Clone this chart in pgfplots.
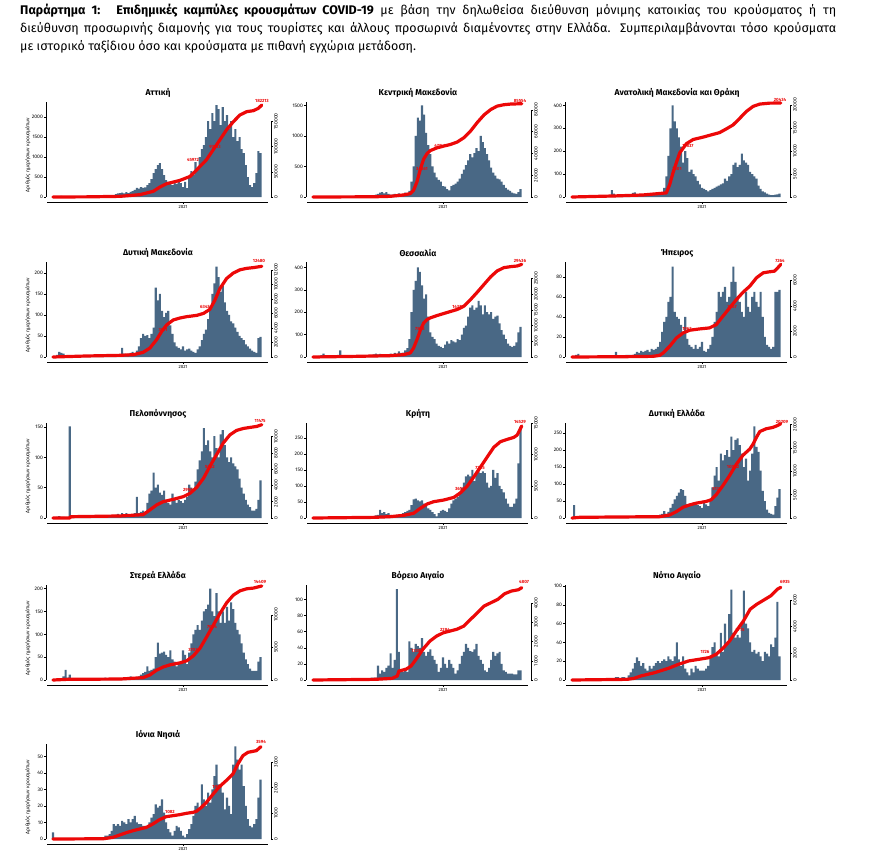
\documentclass[border=0pt]{standalone}
\usepackage{pgfplots}
\pgfplotsset{compat=1.18}
\usepackage{fontspec}
\setmainfont{Fira Sans}

\definecolor{barc}{RGB}{73,104,133}
\definecolor{curvered}{RGB}{236,8,8}

\pgfplotsset{
  panel/.style={width=225pt, height=95pt, scale only axis, anchor=south west,
    xmin=-16.7, xmax=520, ymin=0, clip=false, axis x line=none, xtick=\empty,
    tick align=outside, major tick length=2pt,
    tick style={black, line width=0.5pt},
    axis line style={-, black, line width=0.5pt},
    scaled y ticks=false,
    yticklabel style={font=\fontsize{5}{6}\selectfont, inner sep=1pt}},
  leftax/.style={panel, axis y line*=left, ybar, bar width=5},
  rightax/.style={panel, axis y line*=right, y axis line style={draw=none},
    yticklabel style={rotate=90, anchor=north}},
  bars/.style={fill=barc, draw=none},
  curve/.style={curvered, line width=3.2pt, line join=round, line cap=round},
}

% x axis line, 2021 tick and title of one panel: left edge, zero level, title
\newcommand\frm[3]{%
  \draw[black, line width=0.5pt] ({#1pt+1pt},{-#2pt-5pt}) -- ({#1pt+222pt},{-#2pt-5pt});
  \draw[black, line width=0.5pt] ({#1pt+137pt},{-#2pt-5pt}) -- ++(0,-2pt)
    node[below, inner sep=1pt, font=\fontsize{4.5}{5}\selectfont] {2021};
  \node[font=\fontsize{8.5}{10}\selectfont\bfseries] at ({#1pt+112pt},{-#2pt+104pt}) {#3};
}
\newcommand\ylab[1]{\node[rotate=90, font=\fontsize{5}{6}\selectfont] at (28pt,{-#1pt+42pt}) {Αριθμός ημερήσιων κρουσμάτων};}
\newcommand\vlab[3]{\node[text=curvered, font=\fontsize{4.5}{5}\selectfont\bfseries, inner sep=0pt] at (#1pt,-#2pt) {#3};}

\begin{document}
\begin{tikzpicture}
\path[use as bounding box] (0,0) rectangle (872pt,-864pt);

\node[anchor=north west, inner sep=0pt, text width=816pt, align=justify,
      font=\fontsize{12.5}{18}\selectfont] at (20pt,-4pt)
  {\hyphenpenalty=10000 \textbf{Παράρτημα 1:~ Επιδημικές καμπύλες κρουσμάτων COVID-19} με βάση την δηλωθείσα διεύθυνση μόνιμης κατοικίας του κρούσματος ή τη\linebreak
   διεύθυνση προσωρινής διαμονής για τους τουρίστες και άλλους προσωρινά διαμένοντες στην Ελλάδα. Συμπεριλαμβάνονται τόσο κρούσματα\linebreak
   με ιστορικό ταξίδιου όσο και κρούσματα με πιθανή εγχώρια μετάδοση.};

% ---------------- Αττική
\begin{axis}[leftax, at={(46pt,-197pt)}, ymax=2375, ytick={0,500,1000,1500,2000}, yticklabels={0,500,1000,1500,2000}]
\addplot[bars] table[x expr=\coordindex*5, y index=0, header=false, row sep=\\] {
2\\8\\15\\25\\30\\25\\20\\15\\10\\8\\
5\\5\\4\\5\\5\\5\\6\\8\\8\\6\\
8\\10\\12\\10\\15\\20\\25\\30\\40\\50\\
70\\90\\100\\110\\90\\120\\100\\130\\150\\180\\
230\\210\\250\\230\\240\\300\\350\\450\\600\\700\\
800\\850\\700\\550\\420\\380\\350\\300\\380\\330\\
400\\350\\250\\380\\220\\500\\650\\550\\870\\700\\
1000\\1200\\1300\\1500\\1900\\1700\\2100\\1900\\2300\\2200\\
1800\\2250\\1900\\2050\\1700\\1900\\1500\\1700\\1400\\1500\\
1200\\1100\\800\\500\\300\\250\\350\\600\\1150\\1100\\
};
\end{axis}
\begin{axis}[rightax, at={(46pt,-197pt)}, ymax=188150, ytick={0,50000,100000,150000}, yticklabels={0,50000,100000,150000}]
\draw[black, line width=0.5pt] (axis cs:520,0) -- (axis cs:520,150000);
\addplot[curve] coordinates {(0,0) (80,300) (160,1300) (207,4600) (239,11200) (255,19700)
  (271,26300) (303,33000) (327,40800) (343,54000) (366,73700) (382,93400) (398,113000)
  (414,133000) (430,149000) (446,162500) (462,169000) (478,171000) (490,175700) (498,182213)};
\end{axis}
\frm{46}{197}{Αττική}\ylab{197}
\vlab{193}{160}{45972}\vlab{215}{147}{97813}\vlab{262}{101}{182213}

% ---------------- Κεντρική Μακεδονία
\begin{axis}[leftax, at={(306pt,-197pt)}, ymax=1555, ytick={0,500,1000,1500}, yticklabels={0,500,1000,1500}]
\addplot[bars] table[x expr=\coordindex*5, y index=0, header=false, row sep=\\] {
5\\10\\15\\10\\8\\5\\3\\3\\3\\3\\
3\\3\\3\\3\\3\\3\\3\\3\\3\\3\\
3\\5\\5\\8\\8\\10\\15\\20\\25\\30\\
40\\50\\70\\80\\60\\80\\50\\40\\40\\50\\
40\\60\\40\\50\\70\\60\\100\\250\\500\\1000\\
1300\\1250\\1500\\1350\\1050\\850\\700\\500\\400\\320\\
280\\250\\180\\170\\130\\110\\180\\200\\220\\250\\
300\\380\\450\\520\\600\\700\\650\\720\\800\\750\\
1000\\900\\800\\700\\600\\480\\400\\350\\300\\290\\
250\\200\\150\\120\\100\\70\\60\\50\\80\\130\\
};
\end{axis}
\begin{axis}[rightax, at={(306pt,-197pt)}, ymax=87110, ytick={0,20000,40000,60000,80000}, yticklabels={0,20000,40000,60000,80000}]
\draw[black, line width=0.5pt] (axis cs:520,0) -- (axis cs:520,80000);
\addplot[curve] coordinates {(0,0) (144,200) (184,600) (216,1900) (232,3100) (240,6200)
  (248,14000) (256,25500) (264,34800) (272,39800) (280,42600) (296,45100) (312,46700)
  (328,48200) (344,50400) (360,54400) (376,60600) (392,68400) (408,75300) (424,80200)
  (439,83300) (455,84600) (471,85200) (498,85554)};
\end{axis}
\frm{306}{197}{Κεντρική Μακεδονία}
\vlab{422}{169}{34361}\vlab{440}{146}{47742}\vlab{520}{101}{85554}

% ---------------- Ανατολική Μακεδονία και Θράκη
\begin{axis}[leftax, at={(565pt,-197pt)}, ymax=415, ytick={0,100,200,300,400}, yticklabels={0,100,200,300,400}]
\addplot[bars] table[x expr=\coordindex*5, y index=0, header=false, row sep=\\] {
0\\1\\2\\3\\2\\2\\2\\1\\1\\1\\
1\\1\\1\\1\\2\\2\\3\\5\\8\\30\\
15\\5\\3\\3\\4\\5\\6\\8\\10\\18\\
20\\12\\8\\6\\7\\8\\10\\12\\10\\8\\
10\\12\\15\\20\\40\\90\\180\\300\\400\\330\\
300\\260\\220\\150\\200\\170\\110\\120\\100\\90\\
70\\55\\40\\35\\30\\25\\30\\35\\40\\45\\
50\\55\\60\\80\\70\\90\\100\\140\\150\\130\\
140\\190\\160\\150\\140\\110\\100\\90\\80\\50\\
35\\25\\20\\15\\10\\8\\8\\10\\12\\15\\
};
\end{axis}
\begin{axis}[rightax, at={(565pt,-197pt)}, ymax=20650, ytick={0,5000,10000,15000,20000}, yticklabels={0,5000,10000,15000,20000}]
\draw[black, line width=0.5pt] (axis cs:520,0) -- (axis cs:520,20000);
\addplot[curve] coordinates {(0,0) (98,220) (169,440) (225,890) (233,2700) (241,5300)
  (249,7500) (257,9600) (273,11600) (289,12500) (312,13000) (336,13600) (352,14000)
  (368,14800) (384,15650) (400,17100) (416,18600) (432,19700) (448,20200) (471,20400) (498,20434)};
\end{axis}
\frm{565}{197}{Ανατολική Μακεδονία και Θράκη}
\vlab{677}{169}{7601}\vlab{688}{146}{11837}\vlab{780}{100}{20434}

% ---------------- Δυτική Μακεδονία
\begin{axis}[leftax, at={(46pt,-357pt)}, ymax=226, ytick={0,50,100,150,200}, yticklabels={0,50,100,150,200}]
\addplot[bars] table[x expr=\coordindex*5, y index=0, header=false, row sep=\\] {
0\\2\\5\\12\\10\\8\\2\\2\\2\\1\\
1\\1\\1\\1\\1\\1\\1\\2\\1\\1\\
1\\2\\2\\3\\3\\2\\3\\3\\3\\4\\
4\\5\\5\\22\\8\\6\\8\\10\\12\\8\\
15\\25\\45\\55\\50\\52\\45\\55\\70\\165\\
135\\150\\110\\95\\105\\110\\75\\55\\35\\25\\
22\\18\\25\\15\\18\\20\\15\\12\\10\\18\\
25\\40\\55\\65\\90\\120\\150\\175\\215\\190\\
155\\170\\130\\110\\100\\85\\80\\70\\60\\50\\
45\\40\\30\\25\\20\\15\\12\\10\\45\\48\\
};
\end{axis}
\begin{axis}[rightax, at={(46pt,-357pt)}, ymax=13072, ytick={0,2000,4000,6000,8000,10000,12000}, yticklabels={0,2000,4000,6000,8000,10000,12000}]
\draw[black, line width=0.5pt] (axis cs:520,0) -- (axis cs:520,12000);
\addplot[curve] coordinates {(0,0) (80,140) (160,230) (192,320) (215,640) (231,1230)
  (247,2370) (259,3500) (271,4410) (287,5100) (303,5370) (319,5550) (343,5730) (359,6000)
  (374,6550) (386,7800) (398,9400) (414,10800) (430,11550) (446,12000) (462,12200)
  (478,12300) (498,12480)};
\end{axis}
\frm{46}{357}{Δυτική Μακεδονία}\ylab{357}
\vlab{163}{330}{3701}\vlab{205}{307}{6343}\vlab{259}{261}{12480}

% ---------------- Θεσσαλία
\begin{axis}[leftax, at={(306pt,-357pt)}, ymax=424, ytick={0,100,200,300,400}, yticklabels={0,100,200,300,400}]
\addplot[bars] table[x expr=\coordindex*5, y index=0, header=false, row sep=\\] {
0\\2\\3\\5\\8\\15\\5\\3\\3\\2\\
2\\3\\10\\30\\5\\2\\2\\2\\2\\2\\
3\\3\\2\\2\\3\\3\\4\\5\\6\\12\\
15\\12\\14\\10\\12\\8\\10\\15\\12\\18\\
15\\25\\18\\20\\30\\40\\80\\200\\300\\340\\
400\\380\\320\\260\\280\\180\\110\\90\\80\\60\\
50\\45\\40\\55\\70\\60\\75\\70\\65\\80\\
75\\100\\130\\140\\180\\220\\230\\210\\220\\250\\
230\\190\\230\\200\\190\\200\\170\\180\\185\\150\\
120\\100\\80\\60\\50\\45\\50\\65\\110\\135\\
};
\end{axis}
\begin{axis}[rightax, at={(306pt,-357pt)}, ymax=30180, ytick={0,5000,10000,15000,20000,25000}, yticklabels={0,5000,10000,15000,20000,25000}]
\draw[black, line width=0.5pt] (axis cs:520,0) -- (axis cs:520,25000);
\addplot[curve] coordinates {(0,0) (104,210) (184,430) (216,740) (232,1280) (240,2870)
  (248,5530) (256,8500) (264,10840) (272,11900) (280,12440) (296,13180) (312,13820)
  (328,14460) (344,15100) (360,16160) (376,18280) (392,20620) (408,23070) (424,25510)
  (439,27320) (455,28380) (471,28700) (487,28910) (498,29436)};
\end{axis}
\frm{306}{357}{Θεσσαλία}
\vlab{420}{329}{7828}\vlab{458}{307}{14372}\vlab{520}{261}{29436}

% ---------------- Ήπειρος
\begin{axis}[leftax, at={(565pt,-357pt)}, ymax=94.7, ytick={0,20,40,60,80}, yticklabels={0,20,40,60,80}]
\addplot[bars] table[x expr=\coordindex*5, y index=0, header=false, row sep=\\] {
0\\1\\2\\3\\1\\1\\1\\1\\1\\0\\
1\\0\\1\\1\\0\\1\\1\\1\\1\\1\\
1\\5\\1\\1\\1\\1\\2\\2\\2\\2\\
3\\5\\4\\6\\5\\6\\7\\5\\8\\7\\
8\\10\\15\\25\\35\\40\\55\\60\\90\\45\\
40\\38\\32\\25\\40\\18\\12\\10\\8\\12\\
8\\10\\15\\6\\5\\8\\12\\20\\35\\45\\
65\\60\\65\\70\\55\\60\\75\\90\\75\\60\\
55\\45\\40\\65\\50\\45\\60\\65\\55\\50\\
65\\40\\20\\12\\10\\8\\10\\65\\65\\67\\
};
\end{axis}
\begin{axis}[rightax, at={(565pt,-357pt)}, ymax=7448, ytick={0,2000,4000,6000}, yticklabels={0,2000,4000,6000}]
\draw[black, line width=0.5pt] (axis cs:520,0) -- (axis cs:520,6000);
\addplot[curve] coordinates {(0,0) (130,26) (193,52) (209,130) (217,310) (233,840)
  (249,1490) (265,1890) (281,2100) (304,2200) (328,2280) (344,2540) (360,3200) (376,3850)
  (392,4500) (408,5080) (424,5550) (440,6210) (456,6600) (471,6680) (483,6730) (491,7000) (498,7264)};
\end{axis}
\frm{565}{357}{Ήπειρος}
\vlab{687}{329}{1962}\vlab{732}{307}{3867}\vlab{780}{261}{7264}

% ---------------- Πελοπόννησος
\begin{axis}[leftax, at={(46pt,-518pt)}, ymax=156.6, ytick={0,50,100,150}, yticklabels={0,50,100,150}]
\addplot[bars] table[x expr=\coordindex*5, y index=0, header=false, row sep=\\] {
0\\1\\2\\3\\2\\2\\1\\1\\151\\1\\
1\\1\\1\\0\\1\\1\\0\\1\\1\\1\\
1\\1\\2\\2\\2\\2\\3\\3\\3\\4\\
5\\7\\4\\8\\5\\8\\6\\5\\6\\8\\
35\\8\\10\\12\\10\\25\\40\\45\\75\\50\\
55\\42\\38\\45\\30\\25\\22\\40\\30\\25\\
30\\28\\25\\30\\35\\55\\50\\48\\60\\80\\
95\\110\\148\\120\\128\\110\\100\\135\\115\\100\\
138\\145\\120\\100\\92\\100\\90\\85\\80\\65\\
50\\40\\30\\22\\18\\12\\12\\15\\30\\62\\
};
\end{axis}
\begin{axis}[rightax, at={(46pt,-518pt)}, ymax=11681, ytick={0,2000,4000,6000,8000,10000}, yticklabels={0,2000,4000,6000,8000,10000}]
\draw[black, line width=0.5pt] (axis cs:520,0) -- (axis cs:520,10000);
\addplot[curve] coordinates {(0,0) (40,10) (42,160) (160,250) (215,410) (231,990)
  (247,1600) (263,2010) (287,2300) (311,2630) (327,3040) (343,3780) (359,4890) (374,6330)
  (390,7770) (406,9210) (422,10230) (438,10770) (454,11010) (470,11140) (486,11260) (498,11475)};
\end{axis}
\frm{46}{518}{Πελοπόννησος}\ylab{518}
\vlab{188}{490}{2956}\vlab{210}{467}{5952}\vlab{260}{421}{11475}

% ---------------- Κρήτη
\begin{axis}[leftax, at={(306pt,-518pt)}, ymax=296, ytick={0,50,100,150,200,250}, yticklabels={0,50,100,150,200,250}]
\addplot[bars] table[x expr=\coordindex*5, y index=0, header=false, row sep=\\] {
0\\1\\1\\2\\2\\1\\1\\1\\1\\1\\
1\\1\\1\\1\\1\\1\\1\\1\\1\\1\\
2\\2\\2\\2\\2\\3\\3\\3\\4\\5\\
8\\10\\25\\15\\18\\12\\15\\10\\8\\8\\
10\\10\\12\\15\\18\\22\\25\\40\\58\\60\\
55\\52\\55\\45\\38\\30\\25\\18\\12\\5\\
15\\22\\25\\22\\18\\30\\45\\55\\60\\65\\
80\\95\\110\\130\\135\\130\\150\\115\\140\\145\\
140\\145\\140\\110\\95\\100\\150\\125\\140\\100\\
90\\80\\60\\45\\35\\35\\45\\60\\170\\285\\
};
\end{axis}
\begin{axis}[rightax, at={(306pt,-518pt)}, ymax=15000, ytick={0,5000,10000,15000}, yticklabels={0,5000,10000,15000}]
\draw[black, line width=0.5pt] (axis cs:520,0) -- (axis cs:520,15000);
\addplot[curve] coordinates {(0,0) (144,100) (184,210) (216,420) (240,740) (256,1530)
  (272,2210) (288,2580) (312,2840) (336,3260) (352,4000) (368,5050) (383,6420) (400,8100)
  (416,9680) (431,11150) (447,12050) (463,12410) (479,12730) (487,13100) (498,14529)};
\end{axis}
\frm{306}{518}{Κρήτη}
\vlab{460}{489}{3658}\vlab{480}{468}{7285}\vlab{520}{422}{14529}

% ---------------- Δυτική Ελλάδα
\begin{axis}[leftax, at={(565pt,-518pt)}, ymax=280, ytick={0,50,100,150,200,250}, yticklabels={0,50,100,150,200,250}]
\addplot[bars] table[x expr=\coordindex*5, y index=0, header=false, row sep=\\] {
0\\38\\1\\1\\1\\1\\1\\1\\1\\0\\
1\\1\\1\\1\\1\\1\\1\\1\\1\\1\\
1\\1\\2\\2\\2\\2\\2\\3\\3\\3\\
3\\3\\4\\4\\3\\4\\5\\4\\5\\5\\
6\\8\\10\\12\\20\\12\\18\\30\\42\\55\\
65\\75\\85\\82\\65\\40\\40\\42\\45\\40\\
38\\35\\30\\45\\40\\35\\50\\90\\125\\150\\
110\\190\\170\\185\\200\\180\\240\\200\\230\\235\\
215\\190\\150\\175\\110\\140\\190\\270\\210\\195\\
140\\80\\50\\25\\15\\12\\10\\35\\60\\85\\
};
\end{axis}
\begin{axis}[rightax, at={(565pt,-518pt)}, ymax=20350, ytick={0,5000,10000,15000,20000}, yticklabels={0,5000,10000,15000,20000}]
\draw[black, line width=0.5pt] (axis cs:520,0) -- (axis cs:520,20000);
\addplot[curve] coordinates {(0,0) (5,40) (18,150) (209,290) (233,650) (249,1375)
  (265,2320) (281,2820) (297,3190) (320,3550) (332,3910) (344,5000) (360,6950) (376,9120)
  (392,11510) (408,13470) (424,14770) (432,15860) (440,17300) (448,18530) (463,19110)
  (479,19400) (491,19840) (498,20209)};
\end{axis}
\frm{565}{518}{Δυτική Ελλάδα}
\vlab{717}{489}{5139}\vlab{733}{467}{10062}\vlab{782}{422}{20209}

% ---------------- Στερεά Ελλάδα
\begin{axis}[leftax, at={(46pt,-680pt)}, ymax=208, ytick={0,50,100,150,200}, yticklabels={0,50,100,150,200}]
\addplot[bars] table[x expr=\coordindex*5, y index=0, header=false, row sep=\\] {
0\\0\\1\\2\\3\\8\\22\\5\\12\\3\\
2\\1\\1\\1\\1\\0\\1\\1\\1\\1\\
1\\1\\1\\2\\2\\5\\2\\2\\2\\3\\
3\\4\\3\\4\\5\\4\\5\\8\\5\\6\\
5\\8\\12\\15\\18\\30\\20\\22\\25\\50\\
82\\58\\60\\62\\55\\50\\65\\45\\40\\30\\
35\\40\\65\\55\\35\\60\\80\\100\\110\\120\\
110\\130\\150\\155\\165\\200\\150\\140\\190\\150\\
125\\150\\125\\160\\130\\170\\155\\125\\110\\100\\
80\\60\\45\\35\\25\\20\\20\\20\\40\\50\\
};
\end{axis}
\begin{axis}[rightax, at={(46pt,-680pt)}, ymax=14560, ytick={0,5000,10000}, yticklabels={0,5000,10000}]
\draw[black, line width=0.5pt] (axis cs:520,0) -- (axis cs:520,10000);
\addplot[curve] coordinates {(0,0) (33,100) (160,150) (215,360) (231,770) (247,1500)
  (263,2000) (279,2320) (303,2630) (319,2940) (335,3720) (351,4900) (366,6550) (382,8360)
  (398,10170) (414,11820) (430,13000) (446,13670) (462,13980) (478,14090) (498,14409)};
\end{axis}
\frm{46}{680}{Στερεά Ελλάδα}\ylab{680}
\vlab{193}{650}{3703}\vlab{212}{627}{7004}\vlab{260}{582}{14409}

% ---------------- Βόρειο Αιγαίο
\begin{axis}[leftax, at={(306pt,-680pt)}, ymax=118, ytick={0,20,40,60,80,100}, yticklabels={0,20,40,60,80,100}]
\addplot[bars] table[x expr=\coordindex*5, y index=0, header=false, row sep=\\] {
0\\0\\0\\1\\1\\1\\1\\0\\0\\1\\
0\\0\\0\\1\\0\\0\\1\\0\\0\\1\\
1\\1\\1\\1\\1\\2\\2\\2\\3\\3\\
3\\18\\8\\12\\10\\15\\18\\33\\15\\25\\
113\\35\\12\\10\\15\\10\\48\\40\\35\\45\\
42\\40\\52\\35\\30\\35\\38\\30\\25\\20\\
10\\15\\28\\20\\15\\25\\20\\15\\8\\12\\
20\\30\\35\\45\\40\\36\\35\\38\\45\\30\\
25\\20\\12\\10\\15\\25\\35\\30\\33\\35\\
20\\12\\10\\8\\8\\8\\7\\7\\12\\12\\
};
\end{axis}
\begin{axis}[rightax, at={(306pt,-680pt)}, ymax=4946, ytick={0,1000,2000,3000,4000}, yticklabels={0,1000,2000,3000,4000}]
\draw[black, line width=0.5pt] (axis cs:520,0) -- (axis cs:520,4000);
\addplot[curve] coordinates {(0,0) (149,35) (189,87) (201,210) (205,470) (222,560)
  (234,730) (246,1080) (262,1600) (279,2030) (295,2290) (311,2460) (327,2550) (343,2640)
  (360,2810) (376,3160) (392,3500) (408,3850) (425,4030) (441,4200) (457,4490) (473,4630)
  (490,4700) (498,4807)};
\end{axis}
\frm{306}{680}{Βόρειο Αιγαίο}
\vlab{416}{651}{1338}\vlab{445}{630}{2284}\vlab{524}{582}{4807}

% ---------------- Νότιο Αιγαίο
\begin{axis}[leftax, at={(565pt,-680pt)}, ymax=101, ytick={0,20,40,60,80,100}, yticklabels={0,20,40,60,80,100}]
\addplot[bars] table[x expr=\coordindex*5, y index=0, header=false, row sep=\\] {
0\\0\\0\\1\\1\\0\\0\\0\\0\\0\\
0\\0\\0\\0\\0\\0\\0\\0\\0\\0\\
1\\3\\3\\2\\3\\3\\2\\5\\8\\12\\
18\\24\\20\\15\\18\\12\\10\\15\\12\\15\\
18\\20\\18\\20\\22\\20\\25\\22\\20\\25\\
40\\22\\15\\25\\12\\8\\5\\12\\8\\15\\
12\\10\\10\\10\\12\\15\\25\\35\\40\\28\\
25\\50\\30\\60\\40\\70\\96\\50\\45\\48\\
45\\60\\95\\60\\55\\40\\30\\32\\28\\30\\
25\\20\\30\\28\\25\\38\\35\\45\\83\\25\\
};
\end{axis}
\begin{axis}[rightax, at={(565pt,-680pt)}, ymax=7110, ytick={0,2000,4000,6000}, yticklabels={0,2000,4000,6000}]
\draw[black, line width=0.5pt] (axis cs:520,0) -- (axis cs:520,6000);
\addplot[curve] coordinates {(0,0) (132,50) (148,125) (164,300) (197,550) (230,875)
  (254,1175) (278,1425) (303,1550) (327,1675) (344,1925) (360,2375) (376,2925) (392,3675)
  (409,4425) (425,5300) (441,5675) (457,5975) (474,6300) (490,6800) (498,6935)};
\end{axis}
\frm{565}{680}{Νότιο Αιγαίο}
\vlab{705}{652}{1726}\vlab{740}{630}{3715}\vlab{785}{582}{6935}

% ---------------- Ιόνια Νησιά
\begin{axis}[leftax, at={(46pt,-839pt)}, ymax=57.5, ytick={0,10,20,30,40,50}, yticklabels={0,10,20,30,40,50}]
\addplot[bars] table[x expr=\coordindex*5, y index=0, header=false, row sep=\\] {
4\\0\\0\\0\\0\\0\\0\\0\\0\\0\\
0\\0\\0\\0\\0\\0\\0\\0\\0\\0\\
0\\0\\0\\0\\0\\2\\2\\3\\5\\9\\
8\\9\\8\\11\\10\\9\\12\\10\\12\\14\\
10\\9\\9\\8\\8\\8\\10\\13\\15\\21\\
19\\20\\24\\16\\10\\6\\4\\2\\5\\8\\
7\\5\\2\\1\\3\\6\\9\\14\\20\\22\\
18\\33\\24\\20\\28\\22\\30\\38\\45\\33\\
32\\28\\18\\25\\20\\15\\45\\56\\48\\42\\
45\\32\\20\\12\\8\\7\\9\\12\\25\\36\\
};
\end{axis}
\begin{axis}[rightax, at={(46pt,-839pt)}, ymax=3701, ytick={0,1000,2000,3000}, yticklabels={0,1000,2000,3000}]
\draw[black, line width=0.5pt] (axis cs:520,0) -- (axis cs:520,3000);
\addplot[curve] coordinates {(0,0) (120,10) (143,65) (159,156) (175,247) (191,325) (207,390)
  (223,455) (238,584) (254,753) (270,870) (286,909) (302,948) (318,1000) (334,1039)
  (342,1078) (354,1234) (366,1429) (382,1753) (397,2039) (413,2273) (429,2532) (441,2922)
  (453,3247) (465,3377) (477,3416) (485,3442) (496,3597)};
\end{axis}
\frm{46}{839}{Ιόνια Νησιά}\ylab{839}
\vlab{170}{812}{1082}\vlab{217}{787}{1976}\vlab{261}{742}{3594}

\end{tikzpicture}
\end{document}
